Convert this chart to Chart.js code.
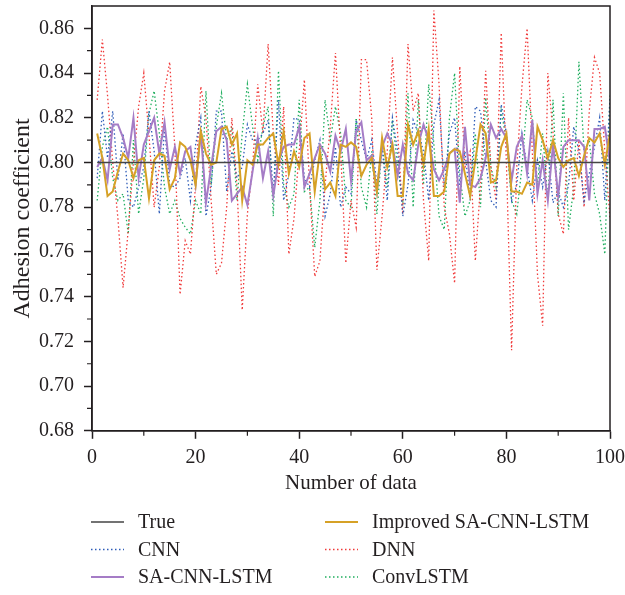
<!DOCTYPE html>
<html>
<head>
<meta charset="utf-8">
<script src="https://cdn.jsdelivr.net/npm/chart.js@4"></script>
<style>
  html, body { margin: 0; padding: 0; background: #fff; }
</style>
</head>
<body>
<canvas id="chart" width="625" height="595"></canvas>
<script>
// x positions: sample number 1..100
const sampleNo = Array.from({ length: 100 }, (_, i) => i + 1);

const trueVals = [
  0.80, 0.80, 0.80, 0.80, 0.80, 0.80, 0.80, 0.80, 0.80, 0.80,
  0.80, 0.80, 0.80, 0.80, 0.80, 0.80, 0.80, 0.80, 0.80, 0.80,
  0.80, 0.80, 0.80, 0.80, 0.80, 0.80, 0.80, 0.80, 0.80, 0.80,
  0.80, 0.80, 0.80, 0.80, 0.80, 0.80, 0.80, 0.80, 0.80, 0.80,
  0.80, 0.80, 0.80, 0.80, 0.80, 0.80, 0.80, 0.80, 0.80, 0.80,
  0.80, 0.80, 0.80, 0.80, 0.80, 0.80, 0.80, 0.80, 0.80, 0.80,
  0.80, 0.80, 0.80, 0.80, 0.80, 0.80, 0.80, 0.80, 0.80, 0.80,
  0.80, 0.80, 0.80, 0.80, 0.80, 0.80, 0.80, 0.80, 0.80, 0.80,
  0.80, 0.80, 0.80, 0.80, 0.80, 0.80, 0.80, 0.80, 0.80, 0.80,
  0.80, 0.80, 0.80, 0.80, 0.80, 0.80, 0.80, 0.80, 0.80, 0.80
];

const cnnVals = [
  0.793, 0.823, 0.802, 0.823, 0.792, 0.813, 0.783, 0.780, 0.789, 0.798,
  0.823, 0.805, 0.777, 0.816, 0.790, 0.789, 0.793, 0.802, 0.783, 0.808,
  0.820, 0.776, 0.789, 0.823, 0.823, 0.787, 0.805, 0.793, 0.798, 0.817,
  0.810, 0.810, 0.813, 0.819, 0.786, 0.828, 0.783, 0.795, 0.820, 0.819,
  0.793, 0.789, 0.801, 0.810, 0.776, 0.786, 0.807, 0.780, 0.789, 0.786,
  0.819, 0.810, 0.801, 0.810, 0.790, 0.807, 0.783, 0.820, 0.805, 0.776,
  0.790, 0.819, 0.813, 0.805, 0.783, 0.817, 0.828, 0.789, 0.813, 0.820,
  0.790, 0.805, 0.783, 0.825, 0.823, 0.801, 0.783, 0.780, 0.826, 0.813,
  0.783, 0.790, 0.813, 0.798, 0.783, 0.801, 0.789, 0.805, 0.782, 0.787,
  0.780, 0.790, 0.816, 0.805, 0.783, 0.795, 0.807, 0.820, 0.783, 0.829
];

const saCnnLstmVals = [
  0.798, 0.802, 0.792, 0.817, 0.817, 0.811, 0.802, 0.820, 0.793, 0.808,
  0.814, 0.820, 0.804, 0.818, 0.797, 0.807, 0.795, 0.805, 0.807, 0.790,
  0.814, 0.782, 0.798, 0.814, 0.816, 0.810, 0.783, 0.786, 0.789, 0.781,
  0.796, 0.811, 0.793, 0.805, 0.785, 0.801, 0.807, 0.808, 0.808, 0.816,
  0.789, 0.795, 0.802, 0.808, 0.804, 0.796, 0.812, 0.805, 0.815, 0.792,
  0.814, 0.818, 0.801, 0.803, 0.787, 0.807, 0.813, 0.808, 0.794, 0.808,
  0.795, 0.792, 0.808, 0.817, 0.810, 0.797, 0.792, 0.797, 0.804, 0.806,
  0.782, 0.816, 0.790, 0.789, 0.793, 0.802, 0.817, 0.811, 0.815, 0.811,
  0.792, 0.807, 0.812, 0.795, 0.819, 0.786, 0.801, 0.783, 0.808, 0.785,
  0.807, 0.810, 0.810, 0.810, 0.807, 0.783, 0.815, 0.815, 0.816, 0.800
];

const improvedVals = [
  0.813, 0.802, 0.785, 0.787, 0.796, 0.804, 0.801, 0.793, 0.801, 0.802,
  0.784, 0.801, 0.804, 0.803, 0.788, 0.793, 0.809, 0.807, 0.801, 0.790,
  0.814, 0.804, 0.799, 0.800, 0.815, 0.816, 0.808, 0.813, 0.783, 0.801,
  0.799, 0.808, 0.808, 0.811, 0.813, 0.799, 0.814, 0.795, 0.805, 0.798,
  0.811, 0.813, 0.787, 0.805, 0.788, 0.791, 0.785, 0.808, 0.807, 0.809,
  0.807, 0.794, 0.799, 0.802, 0.787, 0.811, 0.798, 0.808, 0.785, 0.785,
  0.817, 0.808, 0.814, 0.799, 0.815, 0.785, 0.785, 0.787, 0.804, 0.806,
  0.805, 0.795, 0.785, 0.801, 0.817, 0.813, 0.791, 0.792, 0.807, 0.813,
  0.787, 0.787, 0.786, 0.791, 0.790, 0.816, 0.810, 0.802, 0.810, 0.802,
  0.798, 0.801, 0.802, 0.794, 0.803, 0.811, 0.809, 0.813, 0.799, 0.813
];

const dnnVals = [
  0.828, 0.855, 0.830, 0.800, 0.775, 0.744, 0.770, 0.800, 0.825, 0.840,
  0.812, 0.780, 0.798, 0.832, 0.845, 0.806, 0.741, 0.765, 0.759, 0.790,
  0.834, 0.820, 0.783, 0.750, 0.755, 0.780, 0.820, 0.789, 0.734, 0.777,
  0.798, 0.835, 0.813, 0.853, 0.813, 0.790, 0.825, 0.759, 0.775, 0.805,
  0.837, 0.790, 0.749, 0.756, 0.790, 0.816, 0.849, 0.805, 0.755, 0.783,
  0.771, 0.846, 0.846, 0.820, 0.752, 0.776, 0.805, 0.847, 0.813, 0.777,
  0.853, 0.823, 0.831, 0.783, 0.756, 0.868, 0.835, 0.780, 0.768, 0.746,
  0.843, 0.798, 0.805, 0.756, 0.790, 0.841, 0.798, 0.783, 0.858, 0.800,
  0.716, 0.798, 0.834, 0.860, 0.805, 0.750, 0.727, 0.840, 0.813, 0.777,
  0.768, 0.820, 0.783, 0.810, 0.780, 0.823, 0.847, 0.840, 0.805, 0.775
];

const convLstmVals = [
  0.783, 0.807, 0.816, 0.793, 0.783, 0.786, 0.768, 0.810, 0.777, 0.793,
  0.822, 0.832, 0.813, 0.789, 0.777, 0.783, 0.775, 0.771, 0.768, 0.783,
  0.777, 0.832, 0.790, 0.816, 0.831, 0.810, 0.816, 0.783, 0.813, 0.835,
  0.816, 0.801, 0.816, 0.825, 0.776, 0.841, 0.790, 0.780, 0.786, 0.828,
  0.787, 0.789, 0.762, 0.783, 0.828, 0.810, 0.825, 0.813, 0.783, 0.780,
  0.820, 0.789, 0.780, 0.805, 0.777, 0.808, 0.789, 0.819, 0.798, 0.783,
  0.831, 0.780, 0.828, 0.790, 0.835, 0.808, 0.776, 0.770, 0.820, 0.840,
  0.795, 0.776, 0.783, 0.813, 0.780, 0.829, 0.798, 0.789, 0.823, 0.810,
  0.783, 0.777, 0.798, 0.828, 0.820, 0.790, 0.813, 0.783, 0.828, 0.776,
  0.831, 0.770, 0.789, 0.845, 0.805, 0.810, 0.786, 0.777, 0.759, 0.830
];

const yTicks = [0.68, 0.70, 0.72, 0.74, 0.76, 0.78, 0.80, 0.82, 0.84, 0.86];
const yMinor = [0.69, 0.71, 0.73, 0.75, 0.77, 0.79, 0.81, 0.83, 0.85];
const xMinor = [10, 30, 50, 70, 90];
const yTitle = 'Adhesion coefficient';

const ink = '#231f20';
const serif = 'Liberation Serif';

function pts(vals) {
  return vals.map((v, i) => ({ x: sampleNo[i], y: v }));
}

const datasets = [
  { label: 'True', data: pts(trueVals), borderColor: '#454545', borderWidth: 1.5, borderDash: [], order: 0 },
  { label: 'CNN', data: pts(cnnVals), borderColor: '#2e5cb8', borderWidth: 1.3, borderDash: [1.5, 2.5], order: 3 },
  { label: 'SA-CNN-LSTM', data: pts(saCnnLstmVals), borderColor: '#a57cc6', borderWidth: 2, borderDash: [], order: 2 },
  { label: 'Improved SA-CNN-LSTM', data: pts(improvedVals), borderColor: '#d6a126', borderWidth: 2, borderDash: [], order: 1 },
  { label: 'DNN', data: pts(dnnVals), borderColor: '#f03a3a', borderWidth: 1.3, borderDash: [1.5, 2.5], order: 4 },
  { label: 'ConvLSTM', data: pts(convLstmVals), borderColor: '#1fae5e', borderWidth: 1.3, borderDash: [1.5, 2.5], order: 5 }
];

// frame, minor ticks, y title and two-column legend
const extras = {
  id: 'extras',
  afterDraw(chart) {
    const { ctx, chartArea: a, scales: { x, y } } = chart;
    ctx.save();
    ctx.strokeStyle = ink;
    ctx.lineWidth = 1.5;
    ctx.strokeRect(a.left, a.top, a.right - a.left, a.bottom - a.top);

    ctx.lineWidth = 1.2;
    ctx.beginPath();
    xMinor.forEach(v => {
      const px = x.getPixelForValue(v);
      ctx.moveTo(px, a.bottom);
      ctx.lineTo(px, a.bottom + 5);
    });
    yMinor.forEach(v => {
      const py = y.getPixelForValue(v);
      ctx.moveTo(a.left, py);
      ctx.lineTo(a.left - 5, py);
    });
    ctx.stroke();

    // y axis title
    ctx.fillStyle = ink;
    ctx.font = '24px "' + serif + '"';
    ctx.textAlign = 'center';
    ctx.textBaseline = 'middle';
    ctx.save();
    ctx.translate(23, (a.top + a.bottom) / 2);
    ctx.rotate(-Math.PI / 2);
    ctx.fillText(yTitle, 0, 0);
    ctx.restore();

    // legend
    ctx.font = '20px "' + serif + '"';
    ctx.textAlign = 'left';
    chart.data.datasets.forEach((ds, i) => {
      const col = Math.floor(i / 3), row = i % 3;
      const lx = 91 + col * 234;
      const ly = 522 + row * 27.5;
      ctx.strokeStyle = ds.borderColor;
      ctx.lineWidth = ds.borderWidth;
      ctx.setLineDash(ds.borderDash);
      ctx.beginPath();
      ctx.moveTo(lx, ly);
      ctx.lineTo(lx + 33, ly);
      ctx.stroke();
      ctx.setLineDash([]);
      ctx.fillText(ds.label, lx + 47, ly + 1);
    });
    ctx.restore();
  }
};

new Chart(document.getElementById('chart'), {
  type: 'line',
  data: { datasets },
  options: {
    responsive: false,
    animation: false,
    layout: { padding: { left: 29, right: 0, top: 6, bottom: 99 } },
    elements: { point: { radius: 0 }, line: { tension: 0 } },
    plugins: { legend: { display: false }, tooltip: { enabled: false } },
    scales: {
      x: {
        type: 'linear', min: 0, max: 100,
        afterFit: s => { s.paddingLeft = 0; s.paddingRight = 15; },
        ticks: { stepSize: 20, color: ink, font: { family: serif, size: 20 }, padding: 7, maxRotation: 0 },
        grid: { drawOnChartArea: false, tickLength: 8, tickColor: ink, tickWidth: 1.5 },
        border: { color: ink, width: 1.5 },
        title: { display: true, text: 'Number of data', color: ink, font: { family: serif, size: 21 }, padding: { top: -6, bottom: 0 } }
      },
      y: {
        min: 0.68, max: 0.87,
        afterBuildTicks: s => { s.ticks = yTicks.map(v => ({ value: v })); },
        afterFit: s => { s.paddingTop = 0; s.paddingBottom = 0; },
        ticks: { color: ink, font: { family: serif, size: 20 }, padding: 10, callback: v => v.toFixed(2) },
        grid: { drawOnChartArea: false, tickLength: 8, tickColor: ink, tickWidth: 1.5 },
        border: { color: ink, width: 1.5 }
      }
    }
  },
  plugins: [extras]
});
</script>
</body>
</html>
